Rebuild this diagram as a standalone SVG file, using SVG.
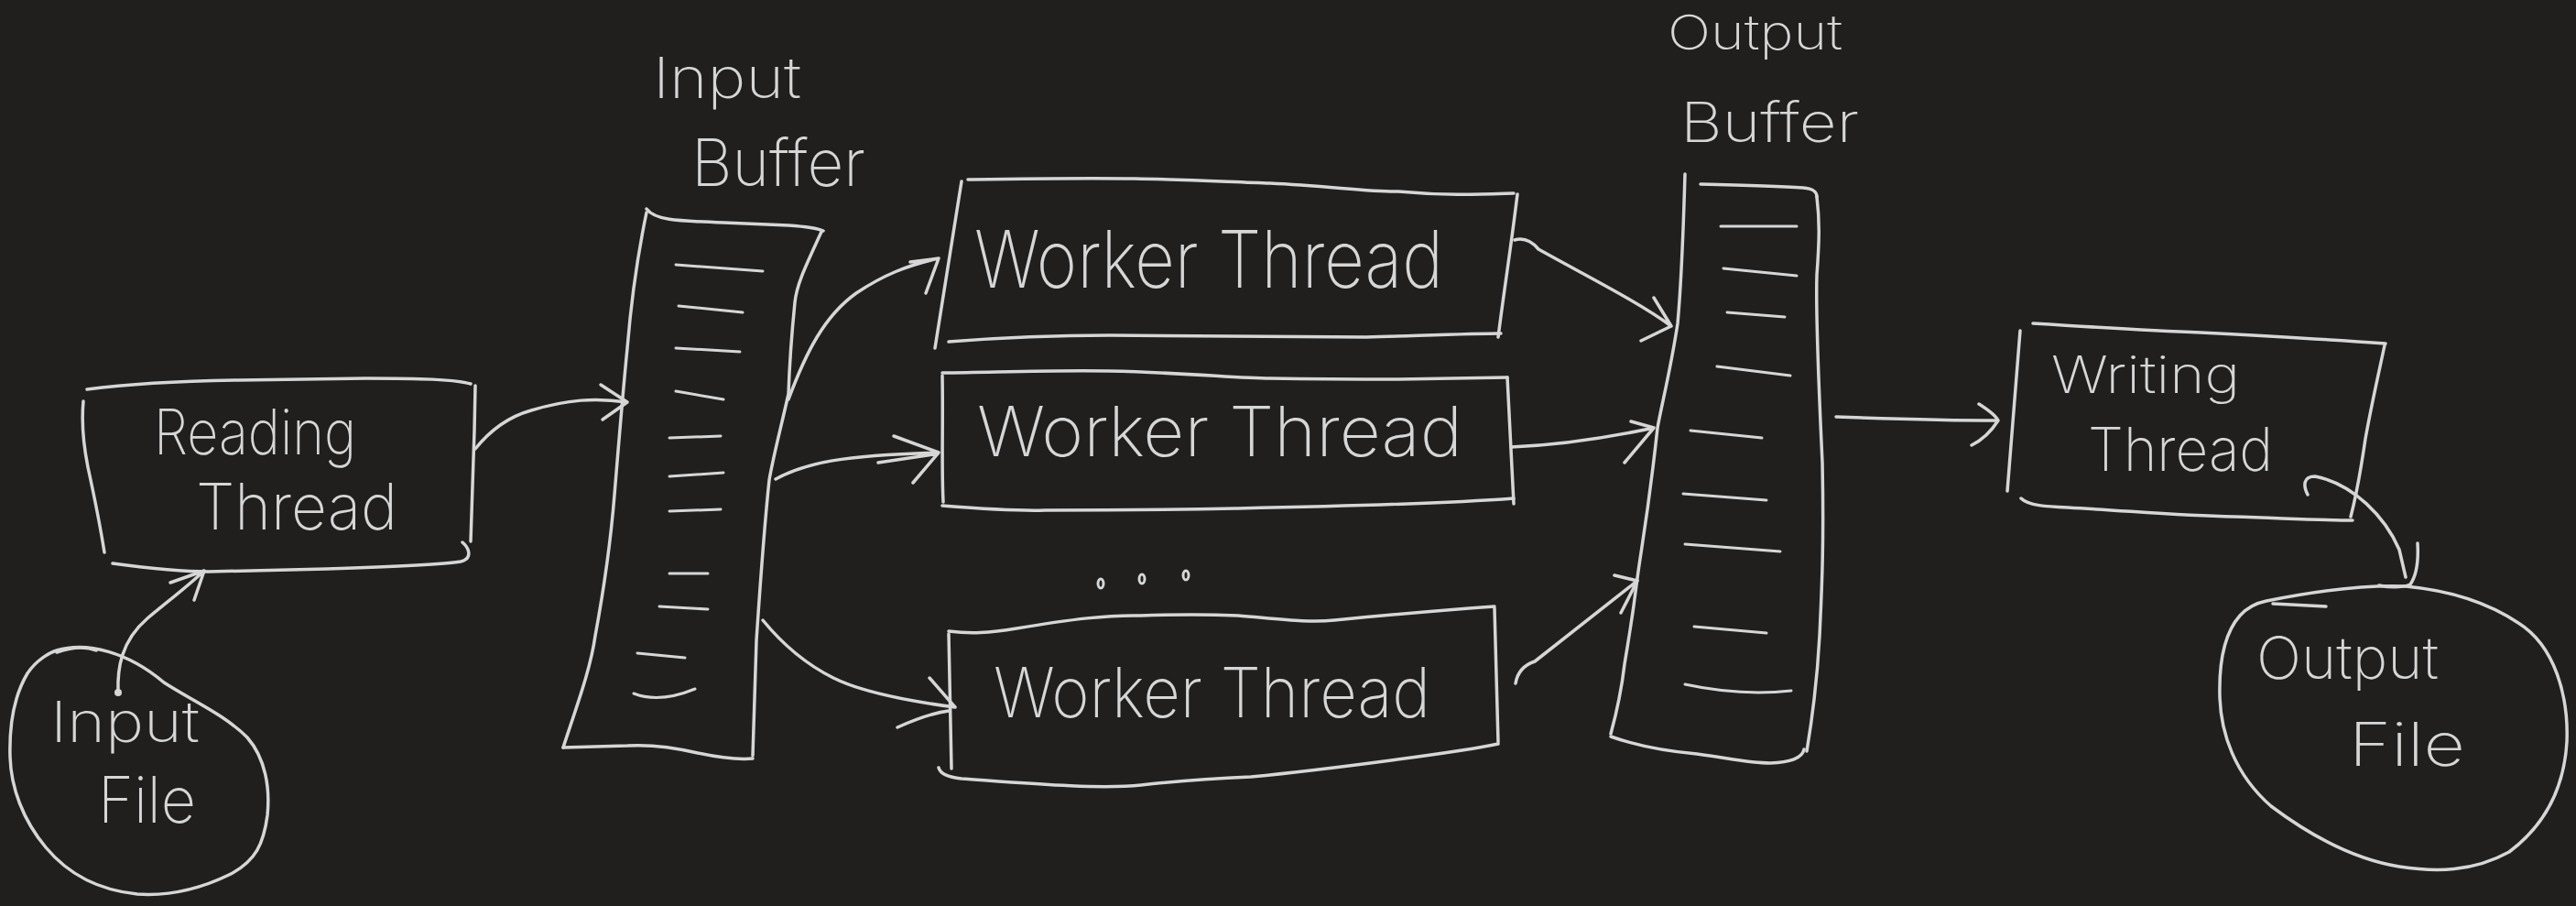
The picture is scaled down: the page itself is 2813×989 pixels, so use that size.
<svg xmlns="http://www.w3.org/2000/svg" width="2813" height="989" viewBox="0 0 2813 989">
<style>
.s{fill:none;stroke:#d6d6d6;stroke-width:3.5;stroke-linecap:round;stroke-linejoin:round}
.d{fill:none;stroke:#d6d6d6;stroke-width:3;stroke-linecap:round}
.t{fill:#d6d6d6;font-family:Inter,"Open Sans","Liberation Sans",sans-serif;font-weight:200}
</style>
<rect width="2813" height="989" fill="#201f1e"/>

<g id="input-file">
<path class="s" d="M62,710 C95,700 140,712 179,745 C210,765 245,780 270,805 C290,828 295,860 292,890 C288,920 280,940 250,955 C215,972 180,978 150,976 C110,972 75,955 50,925 C25,895 12,860 11,826 C10,790 15,760 30,735 C40,720 55,712 62,710 Z"/>
<path class="s" d="M62,712 C80,706 95,706 105,710"/>
<text class="t" x="55" y="810" font-size="62" textLength="163" lengthAdjust="spacingAndGlyphs">Input</text>
<text class="t" x="107" y="898" font-size="70" textLength="107" lengthAdjust="spacingAndGlyphs">File</text>
</g>

<g id="reading-thread">
<path class="s" d="M95,425 C150,418 200,416 260,415 L400,413 C460,413 495,414 514,419"/>
<path class="s" d="M91,438 Q88,470 96,510 Q108,565 114,603"/>
<path class="s" d="M519,421 L518,470 L514,591"/>
<path class="s" d="M123,615 C160,620 200,624 228,624 L357,621 C420,619 480,617 503,613 C515,610 514,600 505,592"/>
<text class="t" x="168" y="496" font-size="68" textLength="221" lengthAdjust="spacingAndGlyphs">Reading</text>
<text class="t" x="214" y="578" font-size="70" textLength="220" lengthAdjust="spacingAndGlyphs">Thread</text>
</g>

<g id="input-buffer">
<text class="t" x="713" y="107" font-size="62" textLength="162" lengthAdjust="spacingAndGlyphs">Input</text>
<text class="t" x="755" y="203" font-size="72" textLength="190" lengthAdjust="spacingAndGlyphs">Buffer</text>
<path class="s" d="M706,228 C715,240 735,241 790,243 L861,246 Q890,248 899,252"/>
<path class="s" d="M897,253 C880,290 870,310 868,330 C864,370 862,400 861,430 C852,470 844,500 840,524 C834,580 830,640 826,699 L822,825"/>
<path class="s" d="M822,828 Q800,830 762,822 Q720,812 685,814 L615,816"/>
<path class="s" d="M615,816 C630,770 645,730 650,694 C660,640 667,590 671,540 C676,480 680,430 685,380 C690,320 698,270 706,232"/>
<path class="d" d="M738,289 L833,296 M741,334 L811,341 M738,380 L808,384 M738,427 L790,436 M731,478 L787,476 M731,520 L790,516 M731,558 L787,556 M731,626 L773,626 M720,662 L773,665 M696,713 L748,718 M692,757 Q720,768 759,752"/>
</g>

<g id="worker-thread-1">
<path class="s" d="M1057,196 C1120,195 1180,194 1239,195 C1300,196 1350,199 1387,200 C1450,203 1500,210 1527,209 C1580,214 1620,212 1653,211"/>
<path class="s" d="M1050,198 C1040,260 1030,320 1021,380"/>
<path class="s" d="M1657,212 C1650,270 1642,320 1636,368"/>
<path class="s" d="M1036,373 C1100,368 1150,366 1211,366 L1492,368 C1560,366 1610,364 1639,364"/>
<text class="t" x="1064" y="314" font-size="86" textLength="512" lengthAdjust="spacingAndGlyphs">Worker Thread</text>
</g>

<g id="worker-thread-2">
<path class="s" d="M1029,407 C1100,406 1150,404 1211,405 C1300,407 1350,413 1387,413 C1450,414 1500,414 1527,414 L1646,412"/>
<path class="s" d="M1029,410 C1030,460 1028,510 1030,548"/>
<path class="s" d="M1646,412 L1653,550"/>
<path class="s" d="M1029,552 C1080,556 1110,558 1141,557 C1250,557 1300,556 1352,555 C1500,552 1600,548 1653,544"/>
<text class="t" x="1067" y="498" font-size="76" textLength="530" lengthAdjust="spacingAndGlyphs">Worker Thread</text>
</g>

<g id="ellipsis">
<ellipse cx="1202" cy="637" rx="3" ry="5" class="d"/>
<ellipse cx="1247" cy="632" rx="3" ry="5" class="d"/>
<ellipse cx="1295" cy="628" rx="3" ry="5" class="d"/>
</g>

<g id="worker-thread-3">
<path class="s" d="M1036,689 C1060,692 1080,691 1110,686 C1170,676 1210,671 1246,672 C1300,670 1330,671 1352,672 C1400,676 1430,680 1457,677 C1530,670 1590,665 1632,662"/>
<path class="s" d="M1036,692 L1039,839"/>
<path class="s" d="M1632,664 L1636,810"/>
<path class="s" d="M1025,838 C1027,845 1035,848 1050,850 C1120,855 1200,862 1246,857 C1290,852 1320,850 1366,848 C1450,840 1600,820 1636,812"/>
<text class="t" x="1085" y="783" font-size="76" textLength="477" lengthAdjust="spacingAndGlyphs">Worker Thread</text>
</g>

<g id="output-buffer">
<text class="t" x="1821" y="54" font-size="52" textLength="191" lengthAdjust="spacingAndGlyphs">Output</text>
<text class="t" x="1835" y="155" font-size="60" textLength="195" lengthAdjust="spacingAndGlyphs">Buffer</text>
<path class="s" d="M1857,201 C1900,202 1940,203 1969,205 C1980,206 1984,209 1984,215"/>
<path class="s" d="M1840,190 C1838,260 1835,320 1832,353 C1825,400 1815,440 1810,467 C1800,560 1792,600 1788,631 C1782,680 1778,700 1774,725 C1770,760 1762,790 1759,801"/>
<path class="s" d="M1759,804 C1790,815 1820,820 1853,823 C1890,828 1910,833 1933,833 C1955,832 1968,828 1970,818"/>
<path class="s" d="M1984,215 C1987,240 1987,260 1984,300 C1983,330 1985,400 1990,505 C1992,600 1989,650 1987,694 C1984,750 1978,790 1973,820"/>
<path class="d" d="M1879,247 L1962,247 M1882,293 L1962,301 M1886,341 L1949,346 M1875,400 L1955,410 M1846,470 L1924,478 M1838,539 L1929,546 M1840,594 L1944,602 M1850,684 L1929,691 M1840,747 Q1900,760 1956,754"/>
</g>

<g id="writing-thread">
<path class="s" d="M2220,353 C2300,358 2350,361 2403,363 C2480,367 2550,371 2605,375"/>
<path class="s" d="M2206,361 L2192,536"/>
<path class="s" d="M2604,377 C2597,410 2590,440 2583,479 C2577,520 2572,545 2567,564"/>
<path class="s" d="M2207,544 C2215,552 2235,553 2258,554 C2330,558 2380,563 2439,564 C2500,566 2540,568 2569,568"/>
<text class="t" x="2240" y="429" font-size="56" textLength="206" lengthAdjust="spacingAndGlyphs">Writing</text>
<text class="t" x="2280" y="514" font-size="66" textLength="202" lengthAdjust="spacingAndGlyphs">Thread</text>
</g>

<g id="output-file">
<path class="s" d="M2475,656 C2530,645 2580,638 2627,640 C2680,645 2720,660 2750,680 C2790,705 2805,760 2803,810 C2800,860 2780,900 2740,930 C2700,952 2660,952 2620,946 C2570,938 2520,910 2480,880 C2440,845 2425,800 2424,760 C2423,720 2430,690 2446,672 C2455,662 2465,658 2475,656 Z"/>
<path class="s" d="M2482,659 L2540,662"/>
<text class="t" x="2464" y="741" font-size="64" textLength="199" lengthAdjust="spacingAndGlyphs">Output</text>
<text class="t" x="2565" y="836" font-size="66" textLength="127" lengthAdjust="spacingAndGlyphs">File</text>
</g>

<g id="connectors">
<circle cx="129" cy="756" r="4" fill="#d6d6d6"/>
<path class="s" d="M129,756 C128,730 132,700 161,675 C185,655 205,640 223,623 M186,636 L223,623 L212,655"/>
<path class="s" d="M519,490 C535,470 555,455 580,448 C620,436 650,434 685,439 M656,420 L685,439 L658,458"/>
<path class="s" d="M861,436 C880,385 900,345 935,320 C965,300 990,290 1025,282 M994,286 L1025,282 L1011,320"/>
<path class="s" d="M847,523 C880,505 920,497 1025,494 M976,476 L1025,494 L997,527 M959,505 L1020,496"/>
<path class="s" d="M833,677 C860,710 890,730 910,740 C940,755 990,765 1043,772 M1015,740 L1043,772 M980,794 C1000,785 1020,778 1036,776"/>
<path class="s" d="M1654,262 Q1668,258 1680,272 C1730,300 1790,330 1825,356 M1806,325 L1825,356 L1792,372"/>
<path class="s" d="M1650,488 C1700,486 1750,479 1806,467 M1781,460 L1806,467 L1774,505"/>
<path class="s" d="M1655,746 Q1658,728 1676,722 L1788,634 M1763,628 L1788,634 L1770,669"/>
<path class="s" d="M2005,455 C2060,457 2120,459 2182,459 M2161,441 C2172,448 2180,455 2182,459 C2175,470 2165,480 2153,486"/>
<path class="s" d="M2520,540 C2515,530 2515,520 2528,520 C2570,528 2605,565 2620,600 L2627,630 M2640,593 C2641,610 2639,628 2632,638 C2622,642 2608,641 2598,639"/>
</g>
</svg>
